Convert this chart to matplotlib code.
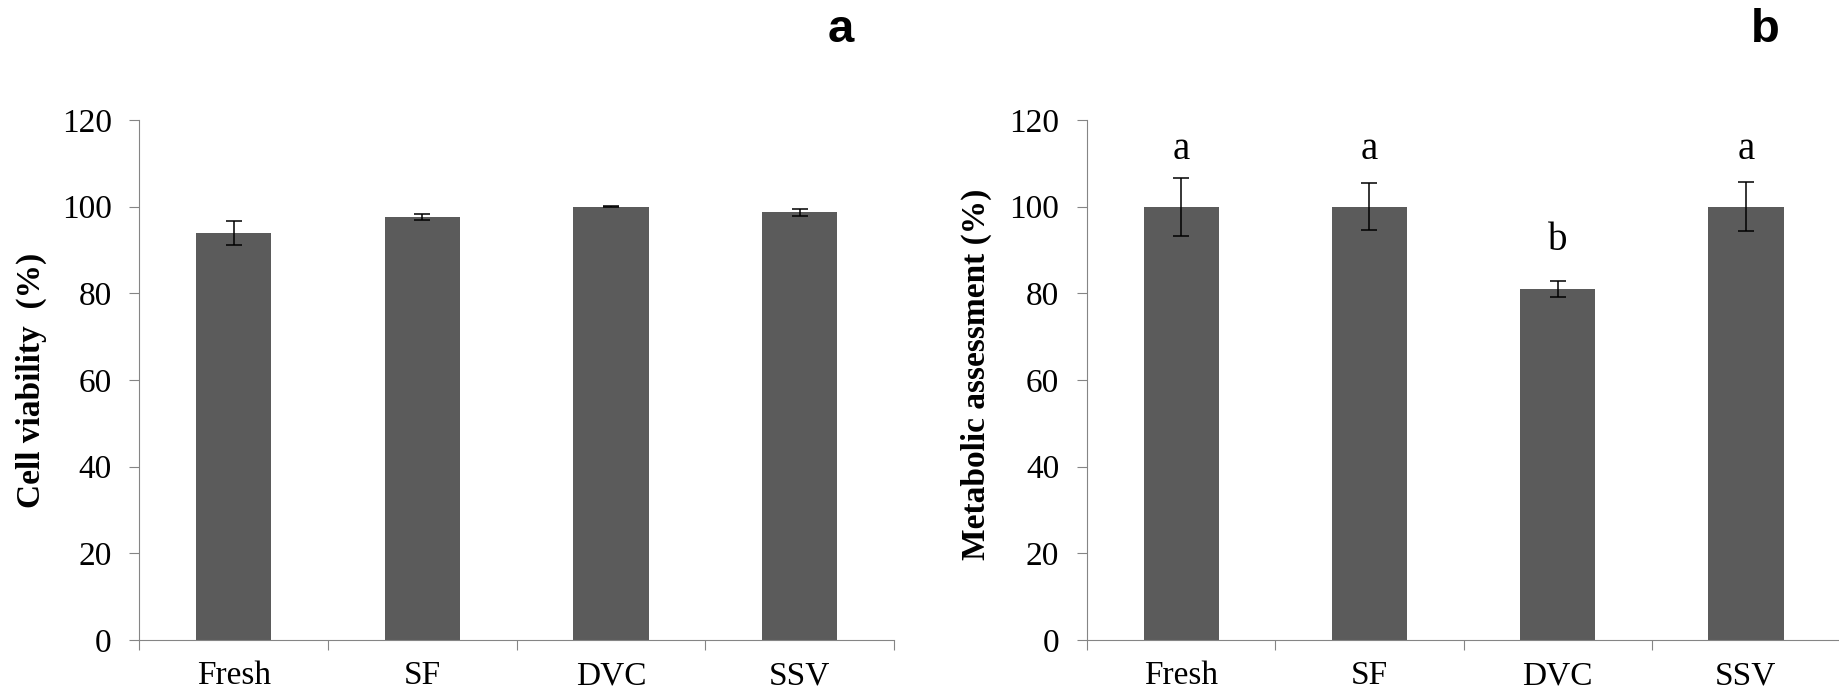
import numpy as np
import matplotlib
matplotlib.use('Agg')
import matplotlib.pyplot as plt

plt.rcParams['font.family'] = ['Liberation Serif', 'DejaVu Serif']

## data
groups = ['Fresh', 'SF', 'DVC', 'SSV']

viab = [93.9, 97.6, 100.0, 98.7]      # cell viability (%)
viab_err = [2.8, 0.6, 0.1, 0.85]

metab = [100.0, 100.0, 81.0, 100.0]   # metabolic assessment (%)
metab_err = [6.7, 5.4, 1.8, 5.7]
metab_letters = ['a', 'a', 'b', 'a']

bar_col = '#5b5b5b'
axis_col = '#858585'

fig = plt.figure(figsize=(18.4, 6.94), dpi=100)
ax1 = fig.add_axes([0.0758, 0.0778, 0.410, 0.7493])
ax2 = fig.add_axes([0.5908, 0.0778, 0.4092, 0.7493])

def setup(ax, vals, errs, ylabel):
	x = np.arange(len(groups))
	ax.bar(x, vals, width=0.4, color=bar_col, zorder=2)
	ax.errorbar(x, vals, yerr=errs, fmt='none', ecolor='black',
				elinewidth=1.1, capsize=6, capthick=1.1, zorder=3)
	ax.set_xlim(-0.5, len(groups) - 0.5)
	ax.set_ylim(0, 120)
	ax.set_yticks(np.arange(0, 121, 20))
	# ticks at the category borders, labels at the centres
	ax.set_xticks(np.arange(len(groups) + 1) - 0.5)
	ax.set_xticklabels([])
	ax.set_xticks(x, minor=True)
	ax.set_xticklabels(groups, minor=True)
	ax.tick_params(axis='x', which='minor', length=0, pad=15, labelsize=24)
	ax.tick_params(axis='x', which='major', length=7, width=0.8, color=axis_col)
	ax.tick_params(axis='y', length=7, width=0.8, color=axis_col, pad=13, labelsize=24)
	for s in ['top', 'right']:
		ax.spines[s].set_visible(False)
	for s in ['left', 'bottom']:
		ax.spines[s].set_color(axis_col)
		ax.spines[s].set_linewidth(0.8)
	ax.set_ylabel(ylabel, fontsize=24, fontweight='bold')
	return x

setup(ax1, viab, viab_err, 'Cell viability  (%)')
ax1.yaxis.set_label_coords(-0.123, 0.5)

x = setup(ax2, metab, metab_err, 'Metabolic assessment (%)')
ax2.yaxis.set_label_coords(-0.126, 0.51)

letter_y = {'a': 111, 'b': 90}
for xi, lt in zip(x, metab_letters):
	ax2.text(xi, letter_y[lt], lt, ha='center', va='baseline', fontsize=28)

fig.text(0.4568, 0.939, 'a', ha='center', va='baseline', fontsize=34,
		 fontweight='bold', family=['Liberation Sans', 'DejaVu Sans'])
fig.text(0.9595, 0.939, 'b', ha='center', va='baseline', fontsize=34,
		 fontweight='bold', family=['Liberation Sans', 'DejaVu Sans'])

fig.savefig('out.png', dpi=100)
